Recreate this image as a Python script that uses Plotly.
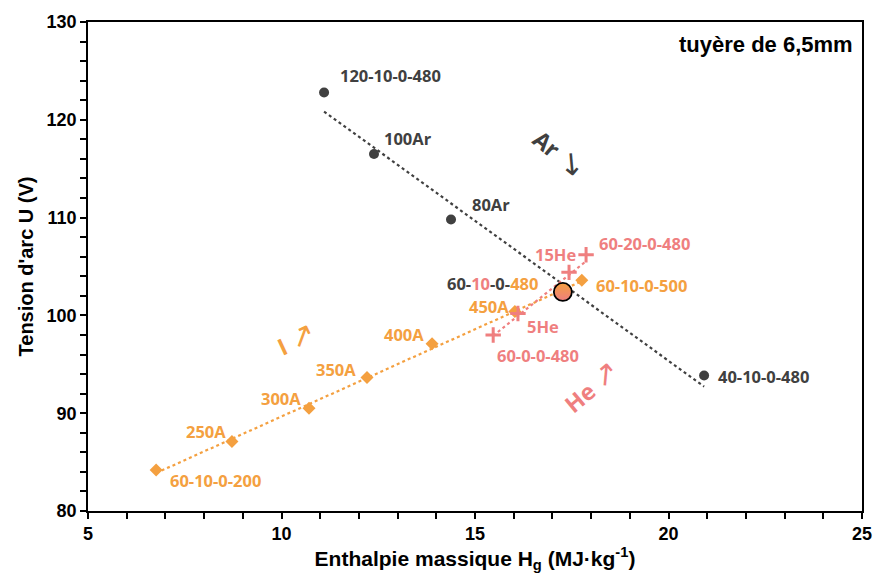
import numpy as np
import plotly.graph_objects as go

# Ar series (argon flow varied); 60-10-0-480 is the common reference point
ar_h = [11.1, 12.39, 14.38, 17.27, 20.92]
ar_u = [122.8, 116.5, 109.8, 102.4, 93.85]
ar_labels = ["120-10-0-480", "100Ar", "80Ar", "", "40-10-0-480"]

# current series (I varied)
cur_h = [6.76, 8.72, 10.71, 12.21, 13.89, 16.03, 17.27, 17.76]
cur_u = [84.2, 87.1, 90.5, 93.65, 97.1, 100.4, 102.4, 103.6]
cur_labels = ["60-10-0-200", "250A", "300A", "350A", "400A", "450A", "", "60-10-0-500"]

# He series (helium flow varied)
he_h = [15.47, 16.11, 17.27, 17.43, 17.87]
he_u = [98.0, 100.2, 102.4, 104.4, 106.2]
he_labels = ["60-0-0-480", "5He", "", "15He", "60-20-0-480"]

ref_h = [17.27]
ref_u = [102.4]

DARK = "#404040"
ORANGE = "#F4A040"
PINK = "#EF7F7F"

# label offsets in px (x right, y up)
ar_shift = [(66, 17), (34, 16), (40, 15), None, (59, -1)]
cur_shift = [(59, -11), (-26, 10), (-28, 10), (-31, 8), (-28, 9), (-26, 5), None, (60, -5)]
he_shift = [(45, -21), (25, -13), None, (-14, 18), (58, 11)]

fig = go.Figure()


def trend(x, y, color):
    a, b = np.polyfit(x, y, 1)
    xs = np.array([min(x), max(x)])
    fig.add_trace(go.Scatter(x=xs, y=a * xs + b, mode="lines",
                             line=dict(color=color, width=2.2, dash="dot"),
                             hoverinfo="skip", showlegend=False))


trend(ar_h, ar_u, DARK)
trend(cur_h, cur_u, ORANGE)
trend(he_h, he_u, PINK)

fig.add_trace(go.Scatter(x=[h for h, l in zip(ar_h, ar_labels) if l],
                         y=[u for u, l in zip(ar_u, ar_labels) if l],
                         mode="markers", marker=dict(color=DARK, size=10),
                         showlegend=False))
fig.add_trace(go.Scatter(x=[h for h, l in zip(cur_h, cur_labels) if l],
                         y=[u for u, l in zip(cur_u, cur_labels) if l],
                         mode="markers",
                         marker=dict(color=ORANGE, size=10, symbol="diamond"),
                         showlegend=False))
fig.add_trace(go.Scatter(x=[h for h, l in zip(he_h, he_labels) if l],
                         y=[u for u, l in zip(he_u, he_labels) if l],
                         mode="markers",
                         marker=dict(symbol="cross-thin", size=11,
                                     line=dict(color=PINK, width=3)),
                         showlegend=False))
fig.add_trace(go.Scatter(x=ref_h, y=ref_u, mode="markers",
                         marker=dict(color=ORANGE, size=18,
                                     gradient=dict(type="vertical", color=PINK),
                                     line=dict(color="black", width=1.8)),
                         showlegend=False))

lab_font = dict(family="Open Sans", size=16.5, weight="bold")


def add_labels(xs, ys, labels, shifts, color):
    for x, y, t, s in zip(xs, ys, labels, shifts):
        if not t:
            continue
        fig.add_annotation(x=x, y=y, text=t, showarrow=False,
                           xshift=s[0], yshift=s[1],
                           font=dict(lab_font, color=color))


add_labels(ar_h, ar_u, ar_labels, ar_shift, DARK)
add_labels(cur_h, cur_u, cur_labels, cur_shift, ORANGE)
add_labels(he_h, he_u, he_labels, he_shift, PINK)

fig.add_annotation(x=ref_h[0], y=ref_u[0], xshift=-70, yshift=8, showarrow=False,
                   text=f"<span style='color:{DARK}'>60-</span>"
                        f"<span style='color:{PINK}'>10</span>"
                        f"<span style='color:{DARK}'>-0-</span>"
                        f"<span style='color:{ORANGE}'>480</span>",
                   font=dict(lab_font, color=DARK))

big = dict(family="Open Sans", size=23, weight="bold")
arrow = "<span style='font-size:30px;font-weight:normal'>{}</span>"
fig.add_annotation(x=17.2, y=116.8, text="Ar " + arrow.format("↘"), textangle=40,
                   showarrow=False, font=dict(big, color=DARK))
fig.add_annotation(x=10.35, y=97.7, text="I " + arrow.format("↗"), textangle=-25,
                   showarrow=False, font=dict(big, color=ORANGE))
fig.add_annotation(x=17.97, y=92.8, text="He " + arrow.format("↗"), textangle=-40,
                   showarrow=False, font=dict(big, color=PINK))

fig.add_annotation(xref="paper", yref="paper", x=0.991, y=0.953,
                   xanchor="right", yanchor="middle", showarrow=False,
                   text="tuyère de 6,5mm",
                   font=dict(family="Liberation Sans", size=22, weight="bold",
                             color="black"))

tick_font = dict(family="Liberation Sans", size=18, weight="bold", color="black")
fig.update_layout(
    width=874, height=573,
    margin=dict(l=88, r=12, t=22, b=62),
    paper_bgcolor="white", plot_bgcolor="white",
    showlegend=False,
    xaxis=dict(range=[5, 25], dtick=5, showgrid=False, zeroline=False,
               automargin=False,
               showline=True, linecolor="black", linewidth=1.5, mirror=True,
               ticks="outside", ticklen=6, tickcolor="black", tickwidth=1.5,
               minor=dict(dtick=1, ticks="outside", ticklen=6,
                          tickcolor="black", tickwidth=1.5),
               tickfont=tick_font,
               title=dict(text="Enthalpie massique H<sub>g</sub> (MJ·kg<sup>-1</sup>)",
                          font=dict(tick_font, size=21), standoff=0)),
    yaxis=dict(range=[80, 130], dtick=10, showgrid=False, zeroline=False,
               automargin=False,
               showline=True, linecolor="black", linewidth=1.5, mirror=True,
               ticks="outside", ticklen=6, tickcolor="black", tickwidth=1.5,
               minor=dict(dtick=2, ticks="outside", ticklen=6,
                          tickcolor="black", tickwidth=1.5),
               tickfont=tick_font,
               title=dict(text="Tension d'arc U (V)", font=dict(tick_font, size=20),
                          standoff=8)),
)

# the page's default body margin would shift the figure by 8px
fig.write_html("out.html", config={"displayModeBar": False},
               post_script="document.body.style.margin='0';")
